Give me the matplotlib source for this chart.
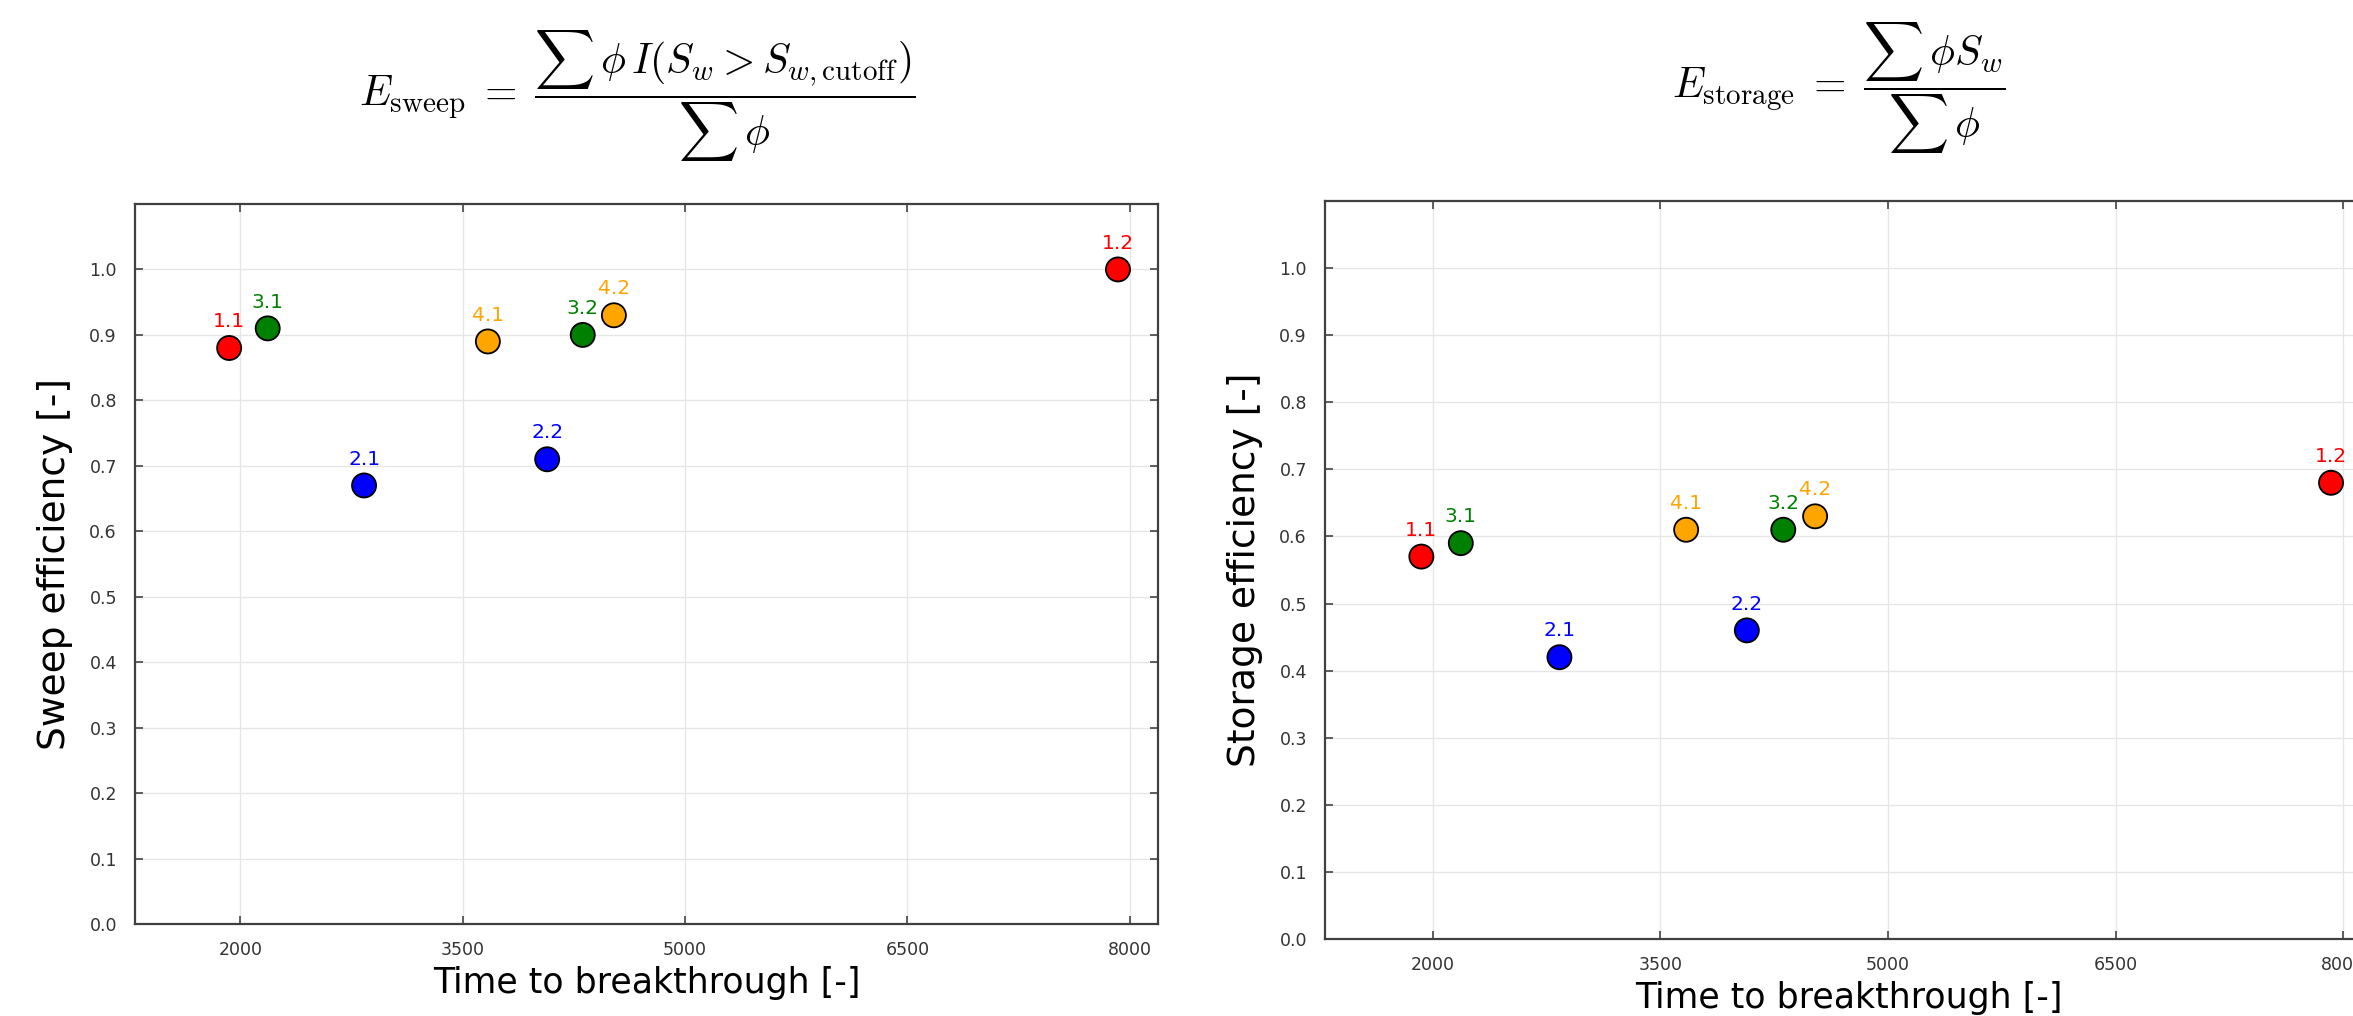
import matplotlib
matplotlib.use("Agg")
import matplotlib.pyplot as plt

plt.rcParams['mathtext.fontset'] = 'cm'
plt.rcParams['font.family'] = 'DejaVu Sans'

labels = ["1.1", "3.1", "2.1", "4.1", "2.2", "3.2", "4.2", "1.2"]
colors = ["red", "green", "blue", "orange", "blue", "green", "orange", "red"]
time_to_breakthrough = [1925, 2185, 2835, 3670, 4070, 4310, 4520, 7920]
sweep_eff = [0.88, 0.91, 0.67, 0.89, 0.71, 0.90, 0.93, 1.00]
storage_eff = [0.57, 0.59, 0.42, 0.61, 0.46, 0.61, 0.63, 0.68]
xticks = [2000, 3500, 5000, 6500, 8000]
yticks = [0.0, 0.1, 0.2, 0.3, 0.4, 0.5, 0.6, 0.7, 0.8, 0.9, 1.0]

W, H = 2353, 1016
fig = plt.figure(figsize=(W / 100, H / 100), dpi=100)

def px_axes(l, r, t, b):
    return fig.add_axes([l / W, (H - b) / H, (r - l) / W, (b - t) / H])

ax1 = px_axes(135, 1158, 204, 924)
ax2 = px_axes(1325, 2372, 201, 939)

titles = [r'$E_{\mathrm{sweep}} \;=\; \dfrac{\sum\,\phi\, I(S_w > S_{w,\mathrm{cutoff}})}{\sum\,\phi}$',
          r'$E_{\mathrm{storage}} \;=\; \dfrac{\sum\,\phi S_w}{\sum\,\phi}$']
title_pos = [(637, 96), (1839, 88)]
ylabels = ["Sweep efficiency [-]", "Storage efficiency [-]"]
ydata = [sweep_eff, storage_eff]

for ax, title, tpos, ylab, yv in zip([ax1, ax2], titles, title_pos, ylabels, ydata):
    ax.set_xlim(1290, 8190)
    ax.set_ylim(0, 1.1)
    ax.set_xticks(xticks)
    ax.set_yticks(yticks)
    ax.set_yticklabels([f"{v:.1f}" for v in yticks])
    ax.grid(True, color="#e6e6e6", linewidth=1.0)
    ax.set_axisbelow(True)
    ax.tick_params(direction="in", top=True, right=True, length=5.5, width=1.2,
                   color="#444444", labelsize=12.5, labelcolor="#333333")
    ax.tick_params(axis="x", pad=12)
    ax.tick_params(axis="y", pad=13)
    for s in ax.spines.values():
        s.set_color("#404040")
        s.set_linewidth(1.6)
    ax.scatter(time_to_breakthrough, yv, s=300, c=colors, edgecolors="black",
               linewidths=1.3, zorder=3)
    for x, y, lab, c in zip(time_to_breakthrough, yv, labels, colors):
        ax.annotate(lab, (x, y), xytext=(0, 15), textcoords="offset points",
                    ha="center", va="baseline", color=c, fontsize=14.5)
    ax.set_xlabel("Time to breakthrough [-]", fontsize=25, labelpad=5)
    ax.set_ylabel(ylab, fontsize=27, labelpad=12)
    fig.text(tpos[0] / W, 1 - tpos[1] / H, title, fontsize=30,
             ha="center", va="center")

fig.savefig("out.png", dpi=100)
